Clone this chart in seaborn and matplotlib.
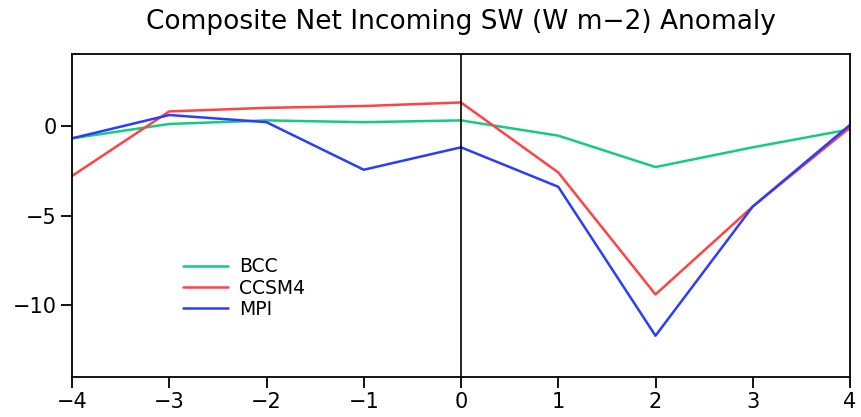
import matplotlib
matplotlib.use("Agg")
import matplotlib.pyplot as plt
import seaborn as sns
import pandas as pd
from matplotlib.lines import Line2D

lags = [-4, -3, -2, -1, 0, 1, 2, 3, 4]
bcc = [-0.7, 0.1, 0.3, 0.2, 0.3, -0.55, -2.3, -1.2, -0.2]
ccsm4 = [-2.8, 0.8, 1.0, 1.1, 1.3, -2.6, -9.4, -4.5, -0.1]
mpi = [-0.7, 0.6, 0.2, -2.45, -1.2, -3.4, -11.7, -4.5, 0.05]
models = ["BCC", "CCSM4", "MPI"]
colors = ["#12cc80", "#ff4242", "#2a3cff"]
xtick_labels = ["\u22124", "\u22123", "\u22122", "\u22121", "0", "1", "2", "3", "4"]
ytick_vals = [0, -5, -10]
ytick_labels = ["0", "\u22125", "\u221210"]

df = pd.concat([
    pd.DataFrame({"lag": lags, "val": v, "model": m})
    for v, m in zip([bcc, ccsm4, mpi], models)
])

sns.set_style("white")
plt.rcParams['font.family'] = ['DejaVu Sans']
plt.rcParams['text.color'] = 'black'
fig = plt.figure(figsize=(8.61, 4.17), dpi=100)
ax = fig.add_axes([72/861, 40/417, (850-72)/861, (377-54)/417])
sns.lineplot(data=df, x="lag", y="val", hue="model", palette=colors,
             hue_order=models, ax=ax, linewidth=1.8, legend=False)
ax.axvline(0, color="black", linewidth=1.2)
ax.set_xlim(-4, 4)
ax.set_ylim(-14, 4)
ax.set_xticks(lags)
ax.set_xticklabels(xtick_labels)
ax.set_yticks(ytick_vals)
ax.set_yticklabels(ytick_labels)
ax.set_xlabel("")
ax.set_ylabel("")
for s in ax.spines.values():
    s.set_color("black")
    s.set_linewidth(1.3)
ax.tick_params(axis="both", which="major", direction="out", length=8, width=1.3,
               labelsize=15, colors="black", bottom=True, left=True)
ax.tick_params(axis="x", pad=3)
ax.tick_params(axis="y", pad=3)
ax.set_title("Composite Net Incoming SW (W m\u22122) Anomaly", fontsize=19,
             pad=18, color="black")

handles = [Line2D([], [], color=c, linewidth=1.8) for c in colors]
leg = ax.legend(handles, models, loc="upper left", bbox_to_anchor=(0.1427, 0.37),
                borderaxespad=0, borderpad=0,
                frameon=False, fontsize=13.5, handlelength=2.4, labelspacing=0.12,
                handletextpad=0.6, labelcolor="black")
fig.savefig("out.png", dpi=100)
